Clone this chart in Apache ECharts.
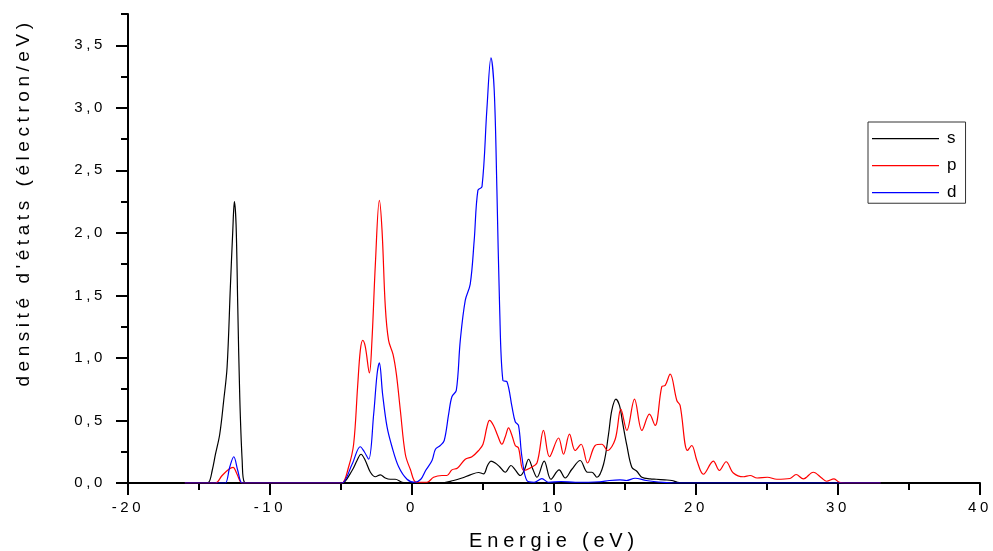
<!DOCTYPE html>
<html>
<head>
<meta charset="utf-8">
<script src="https://cdn.jsdelivr.net/npm/echarts@6/dist/echarts.min.js"></script>
<style>
  html, body { margin: 0; padding: 0; background: #ffffff; }
  #chart { width: 993px; height: 551px; }
</style>
</head>
<body>
<div id="chart"></div>
<script>
// Wide tracking for all chart lettering (spacing scales with the font size).
(function () {
  const proto = CanvasRenderingContext2D.prototype;
  if (!('letterSpacing' in proto)) return;
  function track(ctx) {
    const m = /(\d+(?:\.\d+)?)px/.exec(ctx.font);
    const size = m ? parseFloat(m[1]) : 12;
    ctx.letterSpacing = (size * 0.24).toFixed(2) + 'px';
  }
  ['fillText', 'strokeText', 'measureText'].forEach(function (name) {
    const orig = proto[name];
    proto[name] = function () { track(this); return orig.apply(this, arguments); };
  });
})();

// Partial densities of states (electron/eV) against energy (eV)
const sEnergy  = [-16, -14.6, -14.31, -14.07, -13.84, -13.54, -13.26, -13.02, -12.79, -12.62, -12.51, -12.39, -12.27, -12.13, -11.96, -11.8, -11.4,
                  -5.3, -4.93, -4.22, -3.87, -3.59, -3.29, -2.93, -2.58, -2.23, -1.88, -1.53, -1.18, -0.7, -0.2,
                  2.0, 2.93, 3.52, 4.10, 4.69, 5.04, 5.32, 5.56, 5.86, 6.17, 6.57, 6.97, 7.27, 7.62, 7.9, 8.21, 8.51, 8.80, 9.31, 9.78,
                  10.36, 10.79, 11.26, 11.84, 12.36, 12.67, 13.02, 13.49, 13.84, 14.07, 14.36, 14.61, 14.85, 15.13, 15.48, 15.83, 16.19,
                  16.77, 17.2, 17.8, 18.3, 18.7, 19.2, 33];
const sDensity = [0, 0, 0.006, 0.10, 0.23, 0.39, 0.66, 0.93, 1.57, 2.02, 2.25, 2.07, 1.41, 0.69, 0.18, 0.006, 0,
                  0, 0, 0.10, 0.18, 0.23, 0.18, 0.086, 0.05, 0.065, 0.04, 0.03, 0.03, 0.006, 0,
                  0, 0.02, 0.04, 0.065, 0.084, 0.073, 0.14, 0.175, 0.16, 0.13, 0.086, 0.14, 0.105, 0.06, 0.10, 0.19, 0.11, 0.046, 0.175, 0.03,
                  0.105, 0.04, 0.11, 0.18, 0.086, 0.086, 0.046, 0.15, 0.39, 0.58, 0.67, 0.62, 0.47, 0.30, 0.126, 0.094, 0.046,
                  0.033, 0.03, 0.025, 0.02, 0.006, 0, 0];

const pEnergy  = [-16, -14.2, -13.84, -13.37, -12.9, -12.6, -12.32, -11.96, -11.5,
                  -5.3, -4.93, -4.46, -4.11, -3.83, -3.64, -3.47, -3.29, -3.0, -2.82, -2.58, -2.30, -2.11, -1.88, -1.65, -1.34, -1.10, -0.82, -0.47, -0.12, 0.30,
                  1.06, 1.52, 2.11, 2.46, 2.81, 3.21, 3.75, 4.22, 4.69, 5.0, 5.28, 5.46, 5.74, 6.03, 6.33, 6.57, 6.80, 7.04, 7.27, 7.50, 7.86,
                  8.33, 8.80, 9.26, 9.68, 10.32, 10.67, 11.09, 11.49, 11.91, 12.36, 12.90, 13.37, 13.77, 14.31, 14.71, 15.13, 15.67, 16.19,
                  16.72, 17.12, 17.59, 17.83, 18.18, 18.65, 18.88, 19.40, 19.70, 20.06, 20.52, 21.22, 21.65, 22.12, 22.63, 23.34, 23.81,
                  24.3, 25.03, 25.69, 26.62, 27.05, 27.56, 28.26, 28.85, 29.2, 29.72, 30.09, 30.5, 33];
const pDensity = [0, 0, 0, 0.06, 0.11, 0.125, 0.07, 0, 0,
                  0, 0, 0.13, 0.31, 0.77, 1.06, 1.14, 1.09, 0.88, 1.14, 1.75, 2.26, 2.02, 1.41, 1.14, 1.03, 0.87, 0.58, 0.23, 0.11, 0.006,
                  0.006, 0.046, 0.06, 0.06, 0.105, 0.12, 0.19, 0.21, 0.26, 0.31, 0.45, 0.50, 0.46, 0.38, 0.31, 0.37, 0.44, 0.38, 0.30, 0.28, 0.10,
                  0.12, 0.16, 0.42, 0.21, 0.36, 0.23, 0.39, 0.26, 0.31, 0.16, 0.30, 0.31, 0.26, 0.35, 0.59, 0.42, 0.67, 0.42,
                  0.55, 0.46, 0.77, 0.78, 0.87, 0.66, 0.62, 0.26, 0.30, 0.18, 0.07, 0.175, 0.10, 0.17, 0.08, 0.05, 0.06,
                  0.04, 0.046, 0.03, 0.036, 0.068, 0.033, 0.086, 0.04, 0.014, 0.033, 0.006, 0, 0];

const dEnergy  = [-16, -13.4, -13.14, -12.83, -12.55, -12.27, -11.96, -11.5,
                  -5.3, -4.93, -4.22, -3.64, -3.36, -3.05, -2.70, -2.46, -2.30, -2.07, -1.76, -1.41, -0.94, -0.35, 0.2,
                  0.62, 0.96, 1.41, 1.65, 1.99, 2.27, 2.58, 2.81, 3.12, 3.40, 3.75, 4.10, 4.38, 4.64, 4.93, 5.28, 5.56, 5.79, 5.98,
                  6.17, 6.40, 6.69, 7.04, 7.27, 7.50, 7.74, 8.09, 8.6, 9.15, 9.6, 10.5, 11.5, 13.2, 13.9, 14.65, 15.1, 15.71, 16.5,
                  17.7, 18.5, 33];
const dDensity = [0, 0, 0, 0.13, 0.21, 0.10, 0, 0,
                  0, 0, 0.15, 0.29, 0.25, 0.19, 0.55, 0.87, 0.96, 0.71, 0.45, 0.29, 0.13, 0.03, 0.006,
                  0.03, 0.10, 0.18, 0.27, 0.30, 0.34, 0.55, 0.69, 0.74, 1.14, 1.46, 1.59, 1.94, 2.34, 2.37, 3.00, 3.40, 3.14, 2.34,
                  1.41, 0.82, 0.81, 0.61, 0.49, 0.46, 0.21, 0.02, 0.006, 0.035, 0.006, 0.012, 0.006, 0.01, 0.02, 0.025, 0.02, 0.038, 0.02,
                  0.005, 0, 0];

const seriesNames = ['s', 'p', 'd'];
const seriesColors = ['#000000', '#ff0000', '#0000ff'];
const yMajorTicks = [0, 0.5, 1.0, 1.5, 2.0, 2.5, 3.0, 3.5];
const yMinorTicks = [0.25, 0.75, 1.25, 1.75, 2.25, 2.75, 3.25, 3.75];

function pairs(xs, ys) {
  return xs.map(function (x, i) { return [x, ys[i]]; });
}

const curves = [pairs(sEnergy, sDensity), pairs(pEnergy, pDensity), pairs(dEnergy, dDensity)];

const axisColor = '#000000';
const chart = echarts.init(document.getElementById('chart'), null, { renderer: 'canvas' });

chart.setOption({
  animation: false,
  backgroundColor: '#ffffff',
  textStyle: { fontFamily: '"Liberation Sans", Arial, sans-serif', color: '#000000' },
  grid: { left: 128, right: 13, top: 14, bottom: 68, containLabel: false, outerBoundsMode: 'none' },
  legend: {
    data: seriesNames,
    orient: 'vertical',
    left: 868,
    top: 122,
    padding: [6, 5, 0, 4],
    icon: 'rect',
    itemWidth: 67,
    itemHeight: 1.2,
    itemGap: 6,
    borderColor: '#333333',
    borderWidth: 1,
    borderRadius: 0,
    textStyle: { fontSize: 17, color: '#000000', padding: [0, 0, 0, 3] }
  },
  xAxis: {
    type: 'value',
    min: -20,
    max: 40,
    interval: 10,
    name: 'Energie (eV)',
    nameLocation: 'middle',
    nameGap: 46,
    nameMoveOverlap: false,
    nameTextStyle: { fontSize: 20, color: '#000000' },
    axisLine: { show: true, onZero: false, lineStyle: { color: axisColor, width: 2 } },
    axisTick: { show: true, length: 12, lineStyle: { color: axisColor, width: 2 } },
    minorTick: { show: true, splitNumber: 2, length: 7, lineStyle: { color: axisColor, width: 2 } },
    axisLabel: { margin: 16, fontSize: 15, color: '#000000' },
    splitLine: { show: false },
    minorSplitLine: { show: false }
  },
  yAxis: [{
    type: 'value',
    min: 0,
    max: 3.75,
    position: 'left',
    name: "densité d'états (électron/eV)",
    nameLocation: 'middle',
    nameGap: 92,
    nameMoveOverlap: false,
    nameTextStyle: { fontSize: 19, color: '#000000', padding: [0, 0, 0, 92] },
    axisLine: { show: true, onZero: false, lineStyle: { color: axisColor, width: 2 } },
    axisTick: { show: true, customValues: yMajorTicks, length: 12, lineStyle: { color: axisColor, width: 2 } },
    axisLabel: {
      customValues: yMajorTicks,
      margin: 22,
      fontSize: 15,
      color: '#000000',
      formatter: function (v) { return v.toFixed(1).replace('.', ','); }
    },
    splitLine: { show: false }
  }, {
    type: 'value',
    min: 0,
    max: 3.75,
    position: 'left',
    offset: 0,
    axisLine: { show: false, onZero: false },
    axisTick: { show: true, customValues: yMinorTicks, length: 7, lineStyle: { color: axisColor, width: 2 } },
    axisLabel: { show: false },
    splitLine: { show: false }
  }],
  series: seriesNames.map(function (name, i) {
    return {
      name: name,
      type: 'line',
      data: curves[i],
      yAxisIndex: 0,
      symbol: 'none',
      smooth: 0.35,
      clip: true,
      color: seriesColors[i],
      lineStyle: { color: seriesColors[i], width: 1.2 },
      z: 2 + i
    };
  })
});
</script>
</body>
</html>
